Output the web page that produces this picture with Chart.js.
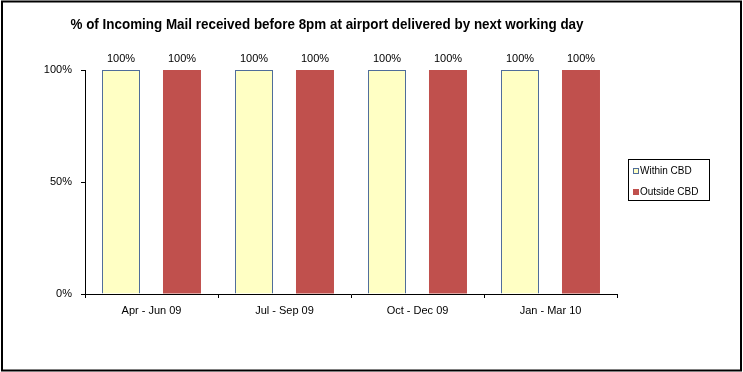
<!DOCTYPE html>
<html>
<head>
<meta charset="utf-8">
<script src="https://cdn.jsdelivr.net/npm/chart.js@4/dist/chart.umd.min.js"></script>
<style>
html,body{margin:0;padding:0;background:#fff;}
#wrap{position:relative;width:743px;height:372px;}
</style>
</head>
<body>
<div id="wrap"><canvas id="c" width="743" height="372"></canvas></div>
<script>
const titleText = "% of Incoming Mail received before 8pm at airport delivered by next working day";
const categories = ["Apr - Jun 09", "Jul - Sep 09", "Oct - Dec 09", "Jan - Mar 10"];
const withinCBD = [100, 100, 100, 100];
const outsideCBD = [100, 100, 100, 100];
const seriesNames = ["Within CBD", "Outside CBD"];
const yTicks = [0, 50, 100];

const FONT = "Arial, 'Liberation Sans', sans-serif";

const decor = {
  id: 'decor',
  afterDraw(chart) {
    const ctx = chart.ctx;
    ctx.save();
    // outer border
    ctx.strokeStyle = '#000';
    ctx.lineWidth = 2;
    ctx.strokeRect(2, 1.5, 739, 369);
    // title (condensed to mimic a narrow face)
    ctx.fillStyle = '#000';
    ctx.font = "bold 15px 'Liberation Sans Narrow', 'Arial Narrow', Arial, sans-serif";
    ctx.textAlign = 'center';
    ctx.textBaseline = 'middle';
    const w = ctx.measureText(titleText).width;
    const sx = Math.min(1, 513 / w);
    ctx.save();
    ctx.translate(327, 25);
    ctx.scale(sx, 1);
    ctx.fillText(titleText, 0, 0);
    ctx.restore();
    // value labels
    ctx.font = "11px " + FONT;
    ctx.textBaseline = 'middle';
    chart.data.datasets.forEach((ds, di) => {
      const meta = chart.getDatasetMeta(di);
      meta.data.forEach((bar, i) => {
        ctx.fillText(ds.data[i] + '%', bar.x, bar.y - 11);
      });
    });
    // legend
    ctx.lineWidth = 1;
    ctx.strokeStyle = '#000';
    ctx.strokeRect(628.5, 159.5, 81, 41);
    ctx.textAlign = 'left';
    ctx.font = "10px " + FONT;
    const ys = [171, 192];
    chart.data.datasets.forEach((ds, di) => {
      const y = ys[di];
      ctx.fillStyle = ds.backgroundColor;
      ctx.fillRect(633, y - 3, 6, 6);
      if (di === 0) {
        ctx.strokeStyle = '#4F6D9A';
        ctx.strokeRect(633.5, y - 2.5, 5, 5);
      }
      ctx.fillStyle = '#000';
      ctx.fillText(ds.label, 640, y + 0.5);
    });
    ctx.restore();
  }
};

new Chart(document.getElementById('c'), {
  type: 'bar',
  data: {
    labels: categories,
    datasets: [
      { label: seriesNames[0], data: withinCBD, backgroundColor: '#FFFFC4', borderColor: '#4F6D9A', borderWidth: 1,
        categoryPercentage: 0.917, barPercentage: 0.623 },
      { label: seriesNames[1], data: outsideCBD, backgroundColor: '#C0504D', borderColor: '#C0504D', borderWidth: 0,
        categoryPercentage: 0.917, barPercentage: 0.623 }
    ]
  },
  options: {
    responsive: false,
    animation: false,
    devicePixelRatio: 1,
    layout: { padding: { left: 0, right: 126, top: 70, bottom: 0 } },
    plugins: { legend: { display: false }, title: { display: false }, tooltip: { enabled: false } },
    scales: {
      x: {
        grid: { display: true, drawOnChartArea: false, offset: true, color: '#000', tickLength: 4 },
        border: { display: true, color: '#000', width: 1 },
        ticks: { color: '#000', font: { size: 11, family: FONT }, padding: 6 },
        afterFit(s) { s.height = 78; }
      },
      y: {
        min: 0, max: 100,
        afterBuildTicks(s) { s.ticks = yTicks.map(v => ({ value: v })); },
        grid: { display: true, drawOnChartArea: false, color: '#000', tickLength: 4 },
        border: { display: true, color: '#000', width: 1 },
        ticks: { color: '#000', font: { size: 11, family: FONT }, padding: 9, callback: v => v + '%' },
        afterFit(s) { s.width = 85; }
      }
    }
  },
  plugins: [decor]
});
</script>
</body>
</html>
